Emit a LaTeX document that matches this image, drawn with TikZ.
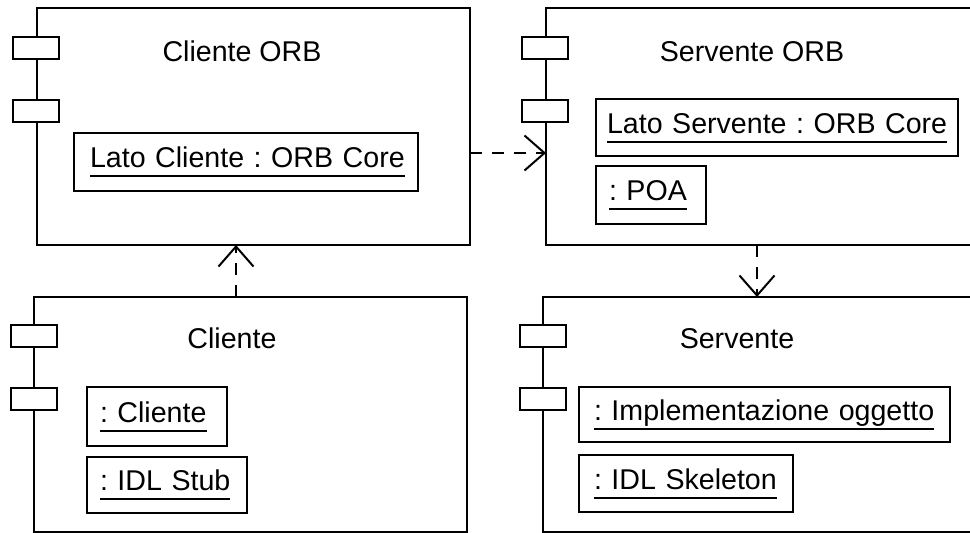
\documentclass[tikz,border=0pt]{standalone}
\usepackage{fontspec}
\setmainfont{Liberation Sans}
\usetikzlibrary{arrows.meta}

% underlined text with the rule a fixed distance under the baseline
\newcommand\objname[1]{\setbox0\hbox{#1}\rlap{\rule[-9.5pt]{\wd0}{2pt}}\box0}

\tikzset{
  every node/.style={font=\fontsize{28.6}{34}\selectfont\frenchspacing, outer sep=0pt},
  comp/.style={draw, line width=2pt, anchor=north west, inner sep=0pt},
  port/.style={draw, fill=white, line width=2pt, minimum width=46pt, minimum height=22pt, inner sep=0pt},
  obj/.style={draw, line width=2pt, anchor=north west, align=left, inner ysep=0pt,
              text height=20pt, text depth=9pt},
  title/.style={anchor=base, inner sep=0pt},
  dep/.style={line width=2pt, dash pattern=on 12pt off 10pt,
              -{Straight Barb[length=20pt, width=35pt, line width=2pt]}}
}

\begin{document}
\begin{tikzpicture}[x=1pt, y=-1pt]
  \useasboundingbox (0,0) rectangle (970,533);
  \clip (0,0) rectangle (970,533);

  % component frames
  \node[comp, minimum width=433pt, minimum height=237pt] (corb) at (37,8) {};
  \node[comp, minimum width=430pt, minimum height=237pt] (sorb) at (546,8) {};
  \node[comp, minimum width=433pt, minimum height=235pt] (cli) at (34,297) {};
  \node[comp, minimum width=433pt, minimum height=235pt] (srv) at (543,297) {};

  % component ports
  \node[port] (corbp1) at (36,48) {};
  \node[port] (corbp2) at (36,111) {};
  \node[port] (sorbp1) at (545,48) {};
  \node[port] (sorbp2) at (545,111) {};
  \node[port] (clip1) at (34,336) {};
  \node[port] (clip2) at (34,399) {};
  \node[port] (srvp1) at (543,336) {};
  \node[port] (srvp2) at (543,399) {};

  % component names
  \node[title] (corbt) at (242,61) {Cliente ORB};
  \node[title] (sorbt) at (752,61) {Servente ORB};
  \node[title] (clit) at (232,348) {Cliente};
  \node[title] (srvt) at (737,348) {Servente};

  % contained objects
  \node[obj, inner xsep=16pt, text width=312pt, minimum height=58pt] (lc) at (74,133)
    {\objname{Lato Cliente : ORB Core}};
  \node[obj, inner xsep=11pt, text width=340pt, minimum height=57pt] (ls) at (596,99)
    {\objname{Lato Servente : ORB Core}};
  \node[obj, inner xsep=13pt, text width=84pt, minimum height=58pt] (poa) at (596,166)
    {\objname{: POA}};
  \node[obj, inner xsep=13pt, text width=114pt, minimum height=59pt] (ocli) at (87,387)
    {\objname{: Cliente}};
  \node[obj, inner xsep=13pt, text width=134pt, minimum height=56pt] (stub) at (87,457)
    {\objname{: IDL Stub}};
  \node[obj, inner xsep=15pt, text width=341pt, minimum height=55pt] (impl) at (579,387)
    {\objname{: Implementazione oggetto}};
  \node[obj, inner xsep=15pt, text width=184pt, minimum height=57pt] (skel) at (579,455)
    {\objname{: IDL Skeleton}};

  % dependencies
  \draw[dep] ([yshift=-26.5pt]corb.east) -- ([yshift=-26.5pt]sorb.west);
  \draw[dep] ([xshift=-14.5pt]cli.north) -- ([xshift=-17.5pt]corb.south);
  \draw[dep] ([xshift=-4pt]sorb.south) -- ([xshift=-2.5pt]srv.north);
\end{tikzpicture}
\end{document}
